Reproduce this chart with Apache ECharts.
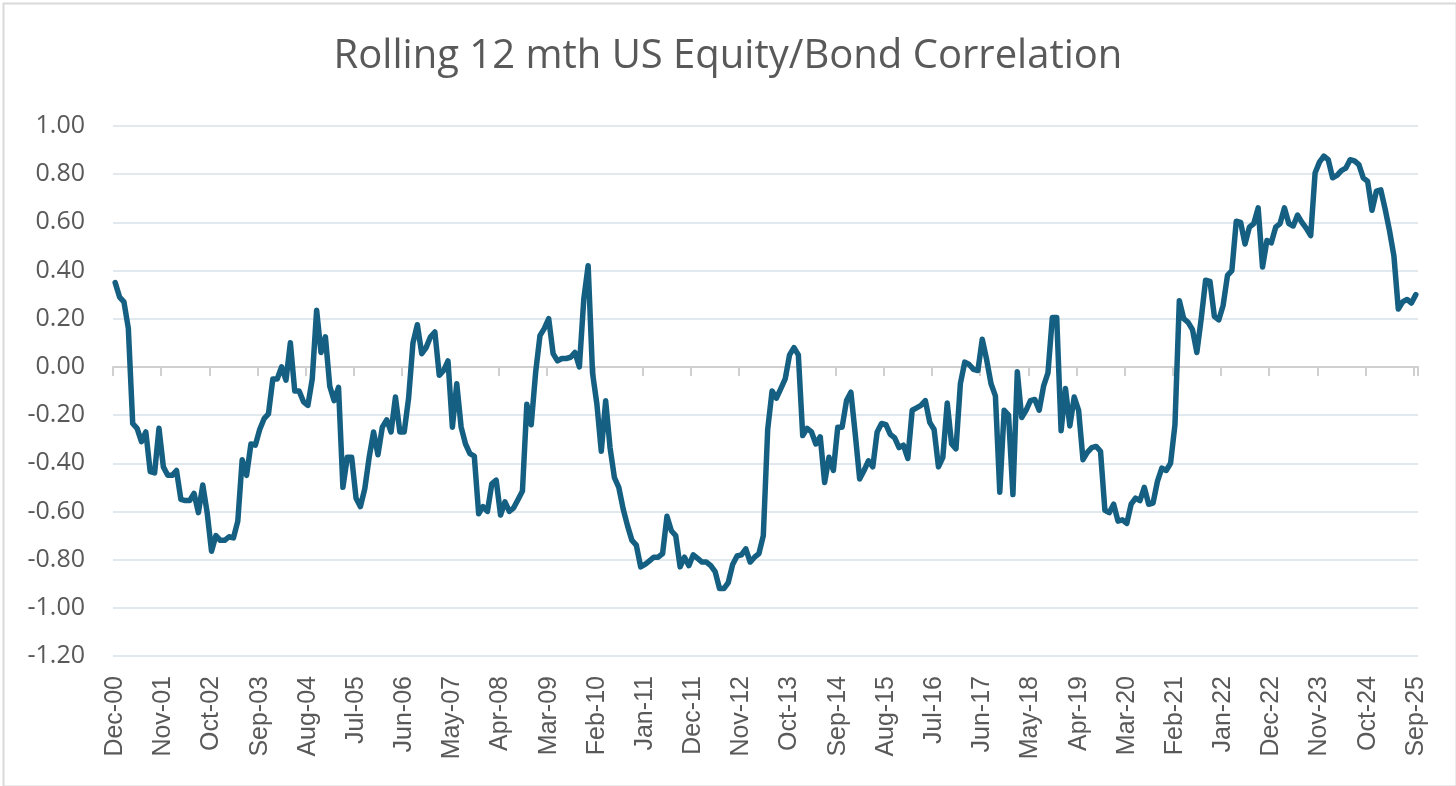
<!DOCTYPE html>
<html>
<head>
<meta charset="utf-8">
<title>Rolling 12 mth US Equity/Bond Correlation</title>
<script src="https://cdn.jsdelivr.net/npm/echarts@6/dist/echarts.min.js"></script>
<style>
  html, body { margin: 0; padding: 0; background: #fff; }
  #chart { width: 1456px; height: 786px; }
</style>
</head>
<body>
<div id="chart"></div>
<script>
const chartEl = document.getElementById("chart");
const chart = echarts.init(chartEl);

// monthly categories, Dec-00 .. Sep-25
const monthNames = ["Jan", "Feb", "Mar", "Apr", "May", "Jun", "Jul", "Aug", "Sep", "Oct", "Nov", "Dec"];
const startYear = 2000;
const startMonth = 11; // December
const monthCount = 298;

const months = [];
for (let i = 0; i < monthCount; i++) {
  const m = (startMonth + i) % 12;
  const y = startYear + Math.floor((startMonth + i) / 12);
  months.push(monthNames[m] + "-" + String(y % 100).padStart(2, "0"));
}

// rolling 12 month correlation
const correlation = [
  0.35, 0.29, 0.27, 0.16, -0.235, -0.255, -0.31, -0.27, -0.435, -0.44,
  -0.255, -0.415, -0.45, -0.45, -0.43, -0.55, -0.555, -0.555, -0.525, -0.605,
  -0.49, -0.605, -0.765, -0.70, -0.72, -0.72, -0.705, -0.71, -0.64, -0.385,
  -0.45, -0.32, -0.325, -0.26, -0.215, -0.195, -0.05, -0.05, 0.0, -0.055,
  0.10, -0.10, -0.10, -0.145, -0.16, -0.05, 0.235, 0.06, 0.125, -0.08,
  -0.14, -0.085, -0.50, -0.375, -0.375, -0.545, -0.58, -0.505, -0.375, -0.27,
  -0.365, -0.25, -0.22, -0.27, -0.125, -0.27, -0.27, -0.13, 0.10, 0.175,
  0.055, 0.08, 0.125, 0.145, -0.035, -0.015, 0.025, -0.25, -0.07, -0.25,
  -0.32, -0.36, -0.37, -0.61, -0.58, -0.60, -0.485, -0.47, -0.615, -0.56,
  -0.60, -0.585, -0.55, -0.515, -0.155, -0.24, -0.025, 0.13, 0.16, 0.20,
  0.055, 0.025, 0.035, 0.035, 0.04, 0.06, 0.0, 0.28, 0.42, -0.025,
  -0.155, -0.35, -0.14, -0.335, -0.46, -0.50, -0.59, -0.66, -0.72, -0.74,
  -0.83, -0.82, -0.805, -0.79, -0.79, -0.775, -0.62, -0.68, -0.70, -0.83,
  -0.79, -0.825, -0.78, -0.795, -0.81, -0.81, -0.825, -0.85, -0.92, -0.92,
  -0.895, -0.82, -0.785, -0.78, -0.755, -0.81, -0.79, -0.775, -0.70, -0.26,
  -0.10, -0.13, -0.09, -0.05, 0.05, 0.08, 0.05, -0.285, -0.255, -0.27,
  -0.32, -0.29, -0.48, -0.375, -0.43, -0.25, -0.25, -0.14, -0.105, -0.28,
  -0.465, -0.43, -0.39, -0.415, -0.27, -0.235, -0.24, -0.28, -0.295, -0.335,
  -0.325, -0.38, -0.18, -0.17, -0.16, -0.14, -0.23, -0.26, -0.415, -0.375,
  -0.15, -0.32, -0.34, -0.07, 0.02, 0.01, -0.01, -0.015, 0.115, 0.03,
  -0.07, -0.12, -0.52, -0.18, -0.20, -0.53, -0.02, -0.21, -0.18, -0.14,
  -0.135, -0.18, -0.08, -0.025, 0.205, 0.205, -0.265, -0.09, -0.245, -0.125,
  -0.18, -0.385, -0.355, -0.335, -0.33, -0.35, -0.595, -0.605, -0.57, -0.64,
  -0.635, -0.65, -0.57, -0.545, -0.555, -0.50, -0.57, -0.565, -0.475, -0.42,
  -0.43, -0.40, -0.24, 0.275, 0.20, 0.185, 0.155, 0.06, 0.20, 0.36,
  0.355, 0.21, 0.195, 0.255, 0.38, 0.40, 0.605, 0.60, 0.51, 0.58,
  0.595, 0.66, 0.415, 0.525, 0.515, 0.58, 0.595, 0.66, 0.595, 0.585,
  0.63, 0.60, 0.575, 0.545, 0.805, 0.85, 0.875, 0.86, 0.785, 0.795,
  0.815, 0.825, 0.86, 0.855, 0.84, 0.785, 0.77, 0.65, 0.73, 0.735,
  0.655, 0.565, 0.46, 0.24, 0.27, 0.28, 0.265, 0.30,
];

const yMin = -1.2;
const yMax = 1.0;
const yStep = 0.2;

const textColor = "#595959";

const chartOption = {
  animation: false,
  backgroundColor: "#ffffff",
  title: {
    text: "Rolling 12 mth US Equity/Bond Correlation",
    left: "center",
    top: 32,
    textStyle: {
      fontFamily: "Open Sans",
      fontSize: 40,
      fontWeight: "normal",
      color: textColor,
    },
  },
  graphic: [
    {
      type: "rect",
      left: 1,
      top: 1,
      shape: { width: 1453, height: 783 },
      style: { fill: "none", stroke: "#d9d9d9", lineWidth: 2 },
      silent: true,
    },
  ],
  grid: {
    left: 113,
    right: 38,
    top: 126,
    bottom: 130,
    containLabel: false,
  },
  xAxis: [
    {
      type: "category",
      data: months,
      boundaryGap: true,
      axisLine: { show: false, onZero: false },
      axisTick: { show: false },
      axisLabel: {
        interval: 10,
        rotate: 90,
        margin: 20,
        fontFamily: "Liberation Sans",
        fontSize: 25,
        color: textColor,
      },
      splitLine: { show: false },
    },
    {
      type: "category",
      data: months,
      boundaryGap: true,
      position: "bottom",
      axisLine: {
        show: true,
        onZero: true,
        lineStyle: { color: "#d0d0d0", width: 2 },
      },
      axisTick: {
        show: true,
        interval: 10,
        length: 9,
        lineStyle: { color: "#d0d0d0", width: 2 },
      },
      axisLabel: { show: false },
      splitLine: { show: false },
    },
  ],
  yAxis: {
    type: "value",
    min: yMin,
    max: yMax,
    interval: yStep,
    axisLine: { show: false },
    axisTick: { show: false },
    axisLabel: {
      margin: 28,
      fontFamily: "Open Sans",
      fontSize: 25,
      color: textColor,
      formatter: function (value) {
        return value.toFixed(2);
      },
    },
    splitLine: {
      show: true,
      lineStyle: { color: "#e1e9ee", width: 2 },
    },
  },
  series: [
    {
      name: "Correlation",
      type: "line",
      xAxisIndex: 0,
      data: correlation,
      symbol: "none",
      smooth: false,
      lineStyle: {
        color: "#156082",
        width: 5.5,
        join: "round",
        cap: "round",
      },
      z: 5,
    },
  ],
};

chart.setOption(chartOption);

window.addEventListener("resize", () => {
  chart.resize();
});
</script>
</body>
</html>
